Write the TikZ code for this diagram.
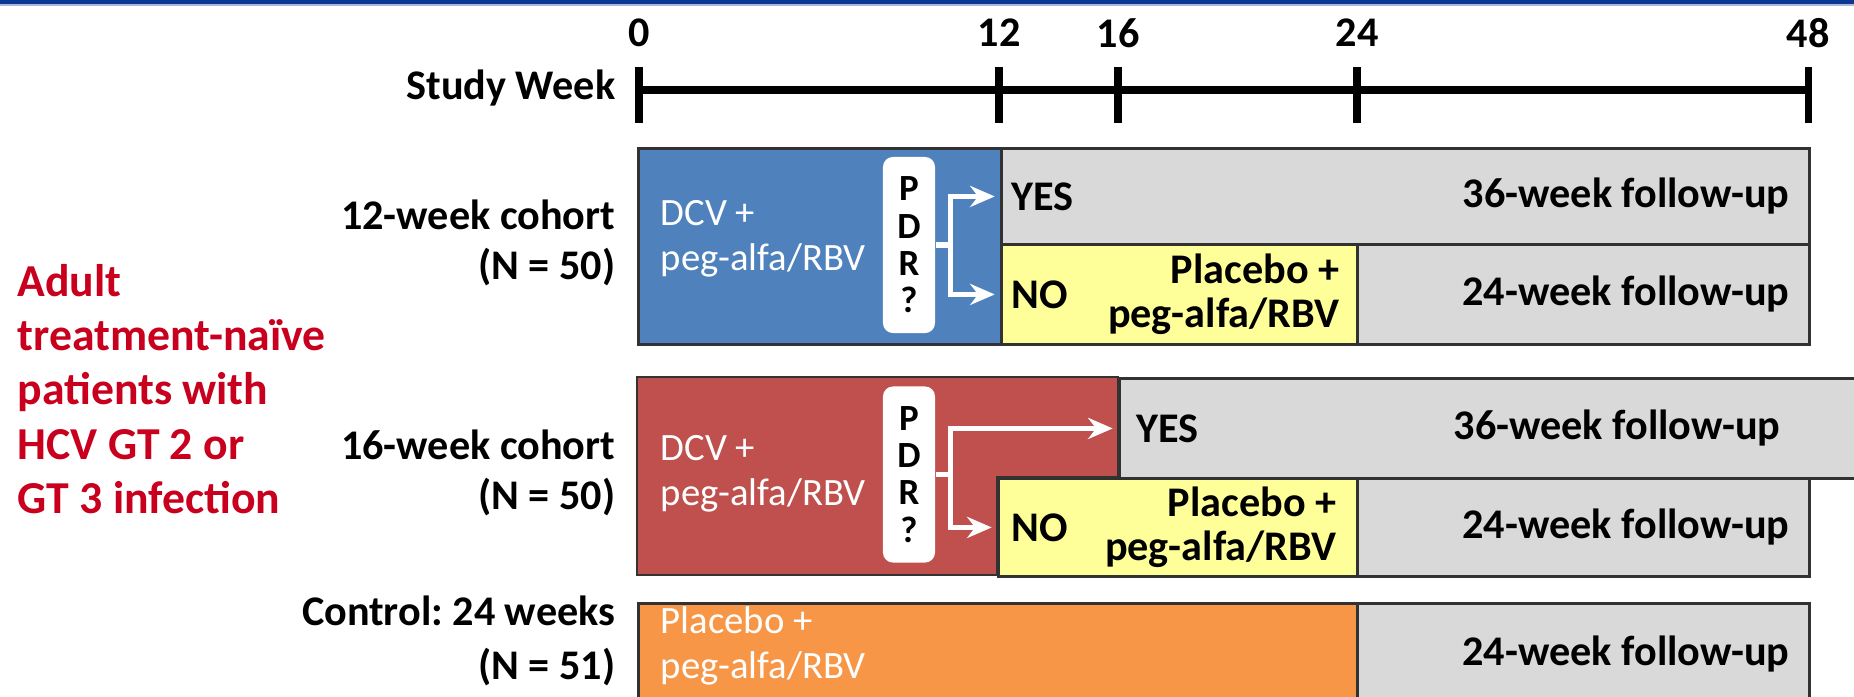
\documentclass[tikz,border=0pt]{standalone}
\usepackage{fontspec}
\setmainfont{Carlito}
\usetikzlibrary{positioning,arrows.meta}

\definecolor{topblue}{RGB}{10,55,145}
\definecolor{dcvblue}{RGB}{79,129,189}
\definecolor{dcvred}{RGB}{192,80,77}
\definecolor{ctlorange}{RGB}{247,150,70}
\definecolor{pbyellow}{RGB}{255,255,153}
\definecolor{fugray}{RGB}{217,217,217}
\definecolor{hcvred}{RGB}{200,0,30}
\definecolor{boxline}{RGB}{50,50,50}

\tikzset{
	lbl/.style={font=\fontsize{12}{14}\selectfont\bfseries\frenchspacing, inner sep=0pt},
	wtxt/.style={text=white, font=\fontsize{11}{12.8}\selectfont, align=left, inner sep=0pt},
	redlbl/.style={text=hcvred, font=\fontsize{13}{15.4}\selectfont\bfseries, align=left, inner sep=0pt},
	box/.style={draw=boxline, line width=0.8pt, inner sep=0pt, anchor=north west},
	pdr/.style={fill=white, rounded corners=0.1cm, minimum width=0.52cm, minimum height=1.76cm,
		inner sep=0pt, align=center, font=\fontsize{10.5}{10.6}\selectfont\bfseries},
	axis/.style={line width=2pt},
	flow/.style={white, line width=1.5pt, shorten >=1.5pt, -{Stealth[length=7pt,width=6pt]}}
}

\begin{document}
\begin{tikzpicture}[x=0.01cm,y=-0.01cm]
	\useasboundingbox (0,0) rectangle (1854,697);
	\fill[topblue] (0,0) rectangle (1854,4);
	\fill[topblue!35] (0,4) rectangle (1854,5.5);
	% time line
	\draw[axis] (639,90)--(1808,90);
	\foreach \w/\x in {0/639,12/999,16/1118,24/1357,48/1808}{
		\draw[axis] (\x,67)--(\x,123);
		\node[lbl] (wk\w) at (\x,33) {\w};
	}
	\node[lbl, anchor=east] (studywk) at (616,88) {Study Week};
	% left labels
	\node[redlbl, anchor=west] (popn) at (17,389) {Adult\\treatment-naïve\\patients with\\HCV GT 2 or\\GT 3 infection};
	\node[lbl, align=right, anchor=east] (coh12) at (616,243) {12-week cohort\\(N = 50)};
	\node[lbl, align=right, anchor=east] (coh16) at (616,473) {16-week cohort\\(N = 50)};
	\node[lbl, align=right, anchor=east] (ctrl) at (616,641) {Control: 24 weeks\\[1.4pt](N = 51)};
	% 12-week cohort
	\node[box, fill=dcvblue, minimum width=3.63cm, minimum height=1.96cm] (dcv1) at (637,147) {};
	\node[box, fill=fugray, minimum width=8.08cm, minimum height=0.96cm] (yes1) at (1000,147) {};
	\node[box, fill=pbyellow, minimum width=3.56cm, minimum height=1.00cm] (no1) at (1000,243) {};
	\node[box, fill=fugray, minimum width=4.52cm, minimum height=1.00cm] (fu1) at (1356,243) {};
	\node[wtxt, anchor=west] (dcv1t) at ([xshift=0.23cm,yshift=0.08cm]dcv1.west) {DCV +\\peg-alfa/RBV};
	\node[pdr] (pdr1) at (909,245) {P\\D\\R\\?};
	\node[lbl, right=0.11cm of yes1.west] (yes1t) {YES};
	\node[lbl, left=0.21cm of yes1.east] (fu36a) {36-week follow-up};
	\node[lbl, right=0.11cm of no1.west] (no1t) {NO};
	\node[lbl, align=right, font=\fontsize{12}{12.5}\selectfont\bfseries, left=0.19cm of no1.east] (pb1) {Placebo +\\peg-alfa/RBV};
	\node[lbl, left=0.21cm of fu1.east] (fu24a) {24-week follow-up};
	\coordinate (fork1) at ([xshift=0.15cm]pdr1.east);
	\draw[flow] (pdr1.east)--(fork1) |- (yes1.west);
	\draw[flow] (fork1) |- (no1.west);
	% 16-week cohort
	\draw[line width=0.8pt, draw=boxline, fill=dcvred] (637,377)--(1118,377)--(1118,477)--(997,477)--(997,575)--(637,575)--cycle;
	\node[box, fill=fugray, minimum width=7.60cm, minimum height=1.00cm] (yes2) at (1118,377) {};
	\node[box, fill=pbyellow, minimum width=3.59cm, minimum height=0.98cm] (no2) at (997,477) {};
	\node[box, fill=fugray, minimum width=4.52cm, minimum height=0.98cm] (fu2) at (1356,477) {};
	\node[wtxt, anchor=west] (dcv2t) at (660,474) {DCV +\\peg-alfa/RBV};
	\node[pdr] (pdr2) at (909,474.5) {P\\D\\R\\?};
	\node[lbl, right=0.18cm of yes2.west] (yes2t) {YES};
	\node[lbl, left=1.0cm of yes2.east] (fu36b) {36-week follow-up};
	\node[lbl, right=0.14cm of no2.west] (no2t) {NO};
	\node[lbl, align=right, font=\fontsize{12}{12.5}\selectfont\bfseries, left=0.22cm of no2.east] (pb2) {Placebo +\\peg-alfa/RBV};
	\node[lbl, left=0.21cm of fu2.east] (fu24b) {24-week follow-up};
	\coordinate (fork2) at ([xshift=0.15cm]pdr2.east);
	\draw[flow] (pdr2.east)--(fork2) |- (yes2.west);
	\draw[flow] (fork2) |- (no2.west);
	% control
	\node[box, fill=ctlorange, minimum width=7.19cm, minimum height=1.02cm] (ctl) at (637,602) {};
	\node[box, fill=fugray, minimum width=4.52cm, minimum height=1.02cm] (fu3) at (1356,602) {};
	\node[wtxt, anchor=west] (ctlt) at (660,646) {Placebo +\\peg-alfa/RBV};
	\node[lbl, left=0.21cm of fu3.east] (fu24c) {24-week follow-up};
\end{tikzpicture}
\end{document}
